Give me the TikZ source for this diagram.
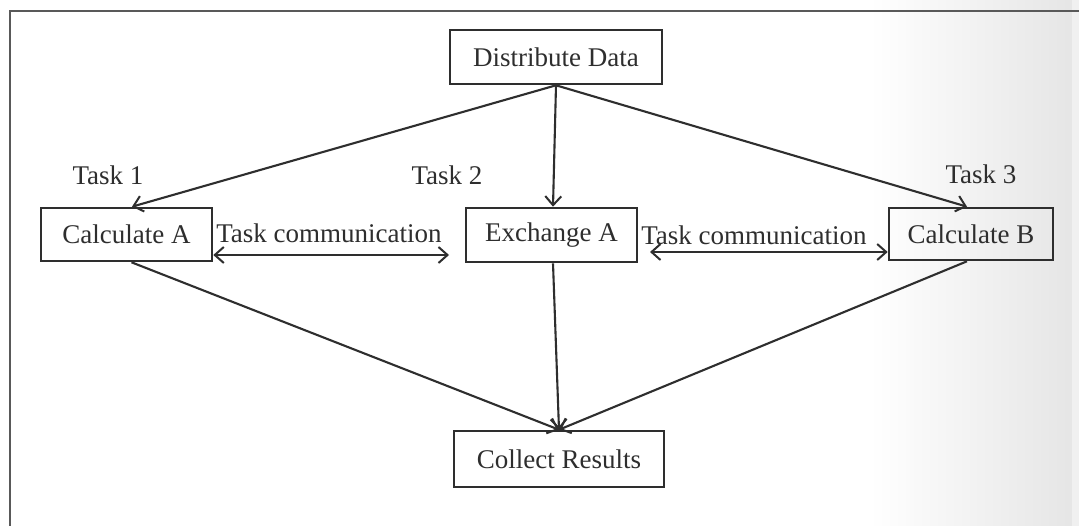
\documentclass[tikz,border=0pt]{standalone}
\usepackage{fontspec}
\setmainfont{Liberation Serif}
\usetikzlibrary{arrows.meta}
\definecolor{ink}{HTML}{2E2E2E}
\begin{document}
\begin{tikzpicture}[x=1pt,y=-1pt,
  box/.style={draw=ink,line width=2.6pt,rectangle,inner sep=0pt,text=ink,
    font=\fontsize{27}{30}\selectfont},
  lbl/.style={text=ink,inner sep=0pt,anchor=base,font=\fontsize{27}{30}\selectfont},
  arr/.style={draw=ink,line width=2.1pt,-{Straight Barb[length=9pt,width=16pt,line width=2pt]}},
  darr/.style={draw=ink,line width=2.1pt,{Straight Barb[length=9pt,width=16pt,line width=2pt]}-{Straight Barb[length=9pt,width=16pt,line width=2pt]}}]
\useasboundingbox (0,0) rectangle (1079,526);
\fill[white] (0,0) rectangle (1079,526);
\shade[left color=white,right color=black!10] (870,0) rectangle (1072,526);
\fill[black!6] (1072,0) rectangle (1079,526);
\draw[black!65,line width=2pt] (1090,11) -- (10,11) -- (10,526);

\node[box,minimum width=212pt,minimum height=54pt] (dist) at (556,57) {Distribute Data};
\node[box,minimum width=171pt,minimum height=53pt] (calcA) at (126.5,234.5) {Calculate A};
\node[box,minimum width=171pt,minimum height=54pt] (exch) at (551.5,235) {Exchange A};
\node[box,minimum width=164pt,minimum height=52pt] (calcB) at (971,234) {Calculate B};
\node[box,minimum width=210pt,minimum height=56pt] (coll) at (559,459) {Collect Results};

\node[lbl] (t1) at (108,185) {Task 1};
\node[lbl] (t2) at (447,185) {Task 2};
\node[lbl] (t3) at (981,184) {Task 3};
\node[lbl] (tc1) at (329,243) {Task communication};
\node[lbl] (tc2) at (754,245) {Task communication};

\coordinate (c1b) at (449,255);
\coordinate (c2a) at (650,252);

\draw[arr] (dist.south) -- ([xshift=5.5pt]calcA.north);
\draw[arr] (dist.south) -- ([xshift=1.5pt]exch.north);
\draw[arr] (dist.south) -- ([xshift=-4pt]calcB.north);
\draw[darr] (calcA.east |- c1b) -- (c1b);
\draw[darr] (c2a) -- (calcB.west |- c2a);
\draw[arr] ([xshift=5pt]calcA.south) -- (coll.north);
\draw[arr] ([xshift=1.5pt]exch.south) -- (coll.north);
\draw[arr] ([xshift=-4pt]calcB.south) -- (coll.north);
\end{tikzpicture}
\end{document}
